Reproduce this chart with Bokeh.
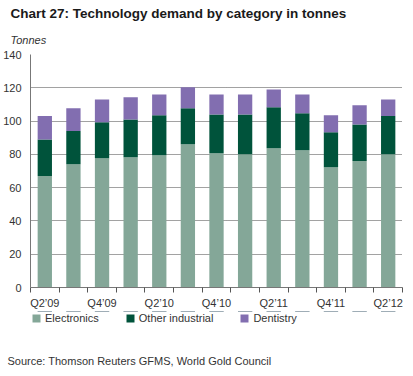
from bokeh.plotting import figure
from bokeh.layouts import column
from bokeh.models import (ColumnDataSource, FixedTicker, Legend, LegendItem, Title, Range1d)
from bokeh.embed import file_html
from bokeh.resources import INLINE

quarters = ["Q2’09", "Q3’09", "Q4’09", "Q1’10", "Q2’10", "Q3’10", "Q4’10",
            "Q1’11", "Q2’11", "Q3’11", "Q4’11", "Q1’12", "Q2’12"]
electronics = [67, 74, 77.7, 78.3, 79.5, 86, 80.7, 80, 83.7, 82.5, 72.3, 76, 80]
other_industrial = [22, 20, 21.6, 22.7, 24, 21.7, 23.3, 24, 24.6, 22.2, 21, 22, 23]
dentistry = [14, 13.7, 13.7, 13.3, 12.5, 12.6, 12, 12, 10.7, 11.3, 10.2, 11.5, 10]
series = ["Electronics", "Other industrial", "Dentistry"]
colors = ["#84A798", "#00533B", "#826EB0"]
y_ticks = [0, 20, 40, 60, 80, 100, 120, 140]
source_text = "Source: Thomson Reuters GFMS, World Gold Council"

x = list(range(len(quarters)))
src = ColumnDataSource(dict(x=x, Electronics=electronics,
                            **{"Other industrial": other_industrial},
                            Dentistry=dentistry))

FONT = "Liberation Sans"
TXT = "#333333"

p = figure(width=405, height=311, output_backend="svg", toolbar_location=None,
           x_range=Range1d(-0.5, len(quarters) - 0.5), y_range=Range1d(y_ticks[0], y_ticks[-1]),
           min_border_left=19, min_border_right=3, min_border_top=0, min_border_bottom=0)
p.outline_line_color = None

p.vbar_stack(series, x="x", width=0.5, color=colors, source=src, line_color=None)

p.title.text = "Chart 27: Technology demand by category in tonnes"
p.title.text_font = FONT
p.title.text_font_size = "13.5px"
p.title.text_font_style = "bold"
p.title.text_color = "#1a1a1a"
p.title.align = "left"
p.title.offset = -20
p.title.standoff = 6

unit = Title(text="Tonnes", text_font=FONT, text_font_size="11px", text_font_style="italic",
             text_color=TXT, align="left", offset=-20, standoff=17)
p.add_layout(unit, "above")

p.xaxis.ticker = FixedTicker(ticks=x[::2], minor_ticks=[i - 0.5 for i in range(len(quarters) + 1)])
p.xaxis.major_label_overrides = {i: q for i, q in enumerate(quarters)}
p.xaxis.major_tick_line_color = None
p.xaxis.minor_tick_line_color = "#555555"
p.xaxis.minor_tick_out = 5
p.xaxis.minor_tick_in = 0
p.xaxis.axis_line_color = "#777777"
p.xaxis.major_label_standoff = 3
p.xaxis.major_label_text_font = FONT
p.xaxis.major_label_text_font_size = "11px"
p.xaxis.major_label_text_color = TXT

p.yaxis.ticker = FixedTicker(ticks=y_ticks)
p.yaxis.major_tick_line_color = None
p.yaxis.minor_tick_line_color = None
p.yaxis.axis_line_color = "#777777"
p.yaxis.major_label_standoff = 3
p.yaxis.major_label_text_font = FONT
p.yaxis.major_label_text_font_size = "11px"
p.yaxis.major_label_text_color = TXT

p.xgrid.grid_line_color = None
p.ygrid.grid_line_color = "#444444"
p.ygrid.grid_line_dash = "1 1"

# Legend + source strip: zero-height proxy bars (outside the view) only feed the legend swatches
p2 = figure(width=405, height=57, output_backend="svg", toolbar_location=None,
            x_range=Range1d(-0.5, len(quarters) - 0.5), y_range=Range1d(-2, -1),
            x_axis_location=None, y_axis_location=None,
            min_border_left=0, min_border_right=0, min_border_top=0, min_border_bottom=0)
p2.grid.visible = False
p2.outline_line_color = None
rs = [p2.vbar(x="x", top=0, bottom=0, width=0.5, fill_color=c, line_color=None, source=src)
      for c in colors]

legend = Legend(items=[LegendItem(label=s, renderers=[r]) for s, r in zip(series, rs)],
                orientation="horizontal", location="top_left",
                label_text_font=FONT, label_text_font_size="11px", label_text_color=TXT,
                glyph_width=10, glyph_height=10, label_standoff=4, spacing=26,
                border_line_color=None, background_fill_alpha=0,
                margin=1, padding=0, label_height=10)
p2.add_layout(legend, "center")

note = Title(text=source_text, text_font=FONT, text_font_size="11px", text_font_style="normal",
             text_color=TXT, align="left", offset=-23, standoff=4)
p2.add_layout(note, "below")

layout = column(p, p2, spacing=0)
open("out.html", "w").write(file_html(layout, INLINE))
